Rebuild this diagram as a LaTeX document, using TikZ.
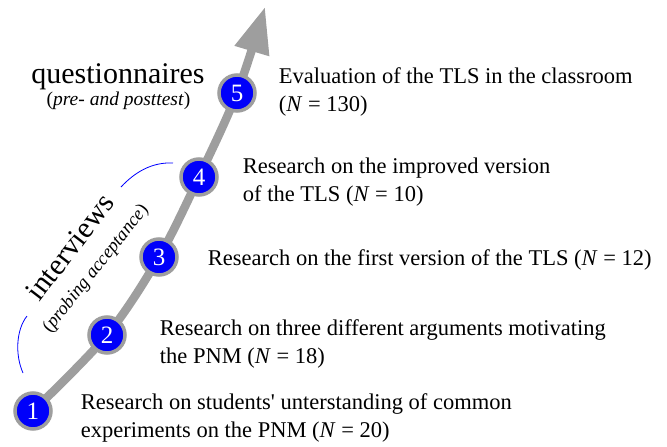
\documentclass[tikz,border=0pt]{standalone}
\usepackage{fontspec}
\setmainfont{Liberation Serif}
\usetikzlibrary{positioning,arrows.meta}
\definecolor{Trail}{RGB}{158,158,158}
\definecolor{Step}{RGB}{0,0,250}

\begin{document}
\begin{tikzpicture}[x=1pt,y=-1pt,
 stage/.style={circle,draw=Trail,fill=Step,line width=3.5pt,minimum size=36pt,inner sep=0pt,text=white,font=\fontsize{25}{25}\selectfont},
 desc/.style={anchor=west,align=left,inner sep=0pt,font=\fontsize{22.5}{27.5}\selectfont},
 trail/.style={line width=8.5pt,Trail,-{Triangle[length=46pt,width=34pt]}},
 hook/.style={blue,line width=.8pt}]
\useasboundingbox (0,0) rectangle (667,447);
\coordinate (p1) at (33,411);
\coordinate (p2) at (107,335);
\coordinate (p3) at (159,257);
\coordinate (p4) at (199,177);
\coordinate (p5) at (237,93);
\coordinate (tip) at (265,7);
\draw[trail] plot[smooth,tension=.55] coordinates {(p1) (p2) (p3) (p4) (p5) (tip)};
\node[stage] (s1) at (p1) {1};
\node[stage] (s2) at (p2) {2};
\node[stage] (s3) at (p3) {3};
\node[stage] (s4) at (p4) {4};
\node[stage] (s5) at (p5) {5};
\node[desc,right=22pt of s5,yshift=1pt] (t5) {Evaluation of the TLS in the classroom\\(\textit{N} = 130)};
\node[desc,right=24pt of s4,yshift=-5pt] (t4) {Research on the improved version\\of the TLS (\textit{N} = 10)};
\node[desc,right=29pt of s3,yshift=-3pt] (t3) {Research on the first version of the TLS (\textit{N} = 12)};
\node[desc,right=33pt of s2,yshift=-9pt] (t2) {Research on three different arguments motivating\\the PNM (\textit{N} = 18)};
\node[desc,right=28pt of s1,yshift=-7pt] (t1) {Research on students\textquotesingle{} unterstanding of common\\experiments on the PNM (\textit{N} = 20)};
% methods
\node[anchor=base,font=\fontsize{30}{30}\selectfont] (q) at (118,83) {questionnaires};
\node[anchor=base,font=\fontsize{19.5}{19.5}\selectfont] (qs) at (118.5,105) {(\textit{pre- and posttest})};
\node[rotate=52.5,font=\fontsize{30}{30}\selectfont] (iv) at (70,247) {interviews};
\node[rotate=51.5,font=\fontsize{18.5}{18.5}\selectfont] (ivs) at (96,269) {(\textit{probing acceptance})};
\coordinate (a1) at (23,373);
\coordinate (a2) at (27,316);
\coordinate (b1) at (121,187);
\coordinate (b2) at (173,163);
\draw[hook] (a1) .. controls (15,355) and (16,330) .. (a2);
\draw[hook] (b1) .. controls (135,172) and (152,162) .. (b2);
\end{tikzpicture}
\end{document}
